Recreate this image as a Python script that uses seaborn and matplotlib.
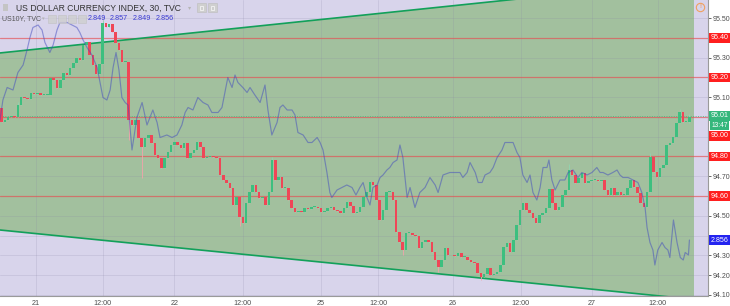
import numpy as np
import pandas as pd
import matplotlib
matplotlib.use("Agg")
import matplotlib.pyplot as plt
import matplotlib.transforms as mtrans
from matplotlib.patches import Rectangle
from matplotlib.lines import Line2D
import seaborn as sns

# ---------------- data ----------------
first_open = 95.046
closes_a = [
    94.975, 94.985, 95.000, 95.005, 95.000, 95.061, 95.101, 95.096, 95.091, 95.122,
    95.116, 95.122, 95.111, 95.111, 95.111, 95.197, 95.187, 95.147, 95.187, 95.223,
    95.213, 95.248, 95.273, 95.299, 95.289, 95.365, 95.380, 95.314, 95.263, 95.218,
    95.268, 95.476, 95.456, 95.471, 95.430, 95.375, 95.339, 95.278, 95.278, 94.985,
    94.960, 94.985, 94.894, 94.848, 94.894, 94.909, 94.868, 94.808, 94.793, 94.742,
    94.793, 94.823, 94.858, 94.873, 94.858, 94.843, 94.868, 94.793, 94.818, 94.833,
    94.873, 94.848, 94.793, 94.798, 94.803, 94.798, 94.793, 94.706, 94.681, 94.666,
    94.641, 94.554, 94.595, 94.494, 94.463, 94.565, 94.620,
]
closes_b = [
    94.656, 94.620, 94.590, 94.595, 94.554, 94.620, 94.782, 94.681, 94.696, 94.641,
    94.641, 94.580, 94.539, 94.519, 94.524, 94.519, 94.539, 94.534, 94.544, 94.544,
    94.539, 94.519, 94.524, 94.539, 94.544, 94.529, 94.524, 94.514, 94.539, 94.570,
    94.549, 94.514, 94.519, 94.544, 94.595, 94.620, 94.671, 94.656, 94.580, 94.479,
    94.529, 94.620, 94.620, 94.580, 94.418, 94.367, 94.327, 94.413, 94.413, 94.403,
    94.398, 94.337, 94.367, 94.377, 94.367, 94.317, 94.276, 94.241, 94.276, 94.337,
    94.301, 94.301, 94.296, 94.312, 94.291, 94.291, 94.276, 94.266, 94.261, 94.210,
    94.190, 94.205, 94.236, 94.200, 94.205, 94.215, 94.251, 94.342, 94.362, 94.317,
    94.377, 94.453, 94.529, 94.565, 94.529, 94.514, 94.489, 94.463, 94.504, 94.514,
    94.539, 94.636, 94.565, 94.529, 94.544, 94.605, 94.630, 94.732, 94.706, 94.666,
    94.691, 94.717, 94.666, 94.676, 94.681, 94.681, 94.676, 94.681, 94.630, 94.605,
    94.641, 94.605, 94.620, 94.605, 94.605, 94.641, 94.681, 94.646, 94.615, 94.565,
    94.544, 94.620, 94.798, 94.722, 94.696, 94.742, 94.757, 94.858, 94.868, 94.899,
    94.970, 95.025, 94.975, 94.975, 95.000,
]
wick_idx = [5, 31, 39, 43, 73, 83, 123, 134, 147, 174, 199, 208, 211]
wick_high = [95.075, 95.490, 95.278, 94.894, 94.595, 94.797, 94.367, 94.276, 94.210, 94.760, 94.820, 95.040, 95.015]
wick_low = [95.000, 95.268, 94.886, 94.691, 94.450, 94.620, 94.300, 94.215, 94.175, 94.630, 94.620, 94.970, 94.970]

us10y_bar = [
    -0.5, 0.4, 1.7, 3.5, 5.0, 6.6, 7.8, 8.7, 9.6, 11.2,
    12.4, 13.3, 14.8, 15.8, 17.0, 17.9, 20.1, 21.6, 23.1, 24.0,
    25.0, 26.2, 27.7, 29.3, 30.2, 31.1, 32.3, 33.3, 34.2, 35.1,
    36.0, 36.9, 37.9, 38.8, 40.0, 41.5, 43.1, 44.6, 45.5, 46.4,
    47.7, 48.6, 50.7, 52.3, 53.8, 55.3, 56.3, 57.2, 58.7, 60.2,
    61.8, 63.3, 64.5, 65.5, 66.4, 67.6, 68.5, 69.4, 70.7, 71.6,
    72.5, 74.0, 75.3, 76.2, 77.7, 79.3, 80.8, 81.7, 82.9, 84.5,
    85.4, 86.3, 87.6, 89.1, 90.0, 90.9, 92.5, 94.0, 95.2, 96.8,
    97.7, 98.6, 99.8, 100.7, 101.3, 102.9, 104.4, 105.9, 107.5, 108.7,
    109.9, 110.9, 112.1, 113.0, 113.9, 115.2, 116.1, 117.0, 118.2, 119.1,
    120.1, 121.3, 122.2, 123.1, 124.4, 125.3, 126.8, 128.3, 129.9, 131.4,
    133.0, 133.9, 135.4, 137.5, 139.1, 140.6, 141.5, 142.8, 143.7, 145.3,
    146.2, 147.4, 148.3, 149.8, 150.8, 152.0, 153.5, 154.4, 156.0, 156.9,
    158.1, 159.0, 159.9, 161.2, 162.1, 163.0, 164.2, 165.2, 166.1, 167.3,
    167.9, 168.8, 169.8, 171.3, 172.8, 173.8, 175.3, 176.8, 178.0, 179.6,
    181.1, 182.6, 183.6, 184.5, 186.0, 187.5, 188.8, 189.7, 190.6, 192.2,
    193.7, 195.2, 196.4, 197.4, 198.0, 198.9, 199.8, 200.4, 201.3, 202.6,
    203.5, 204.4, 205.0, 206.1, 207.2, 208.2, 209.1, 209.7, 210.7, 211.0,
]
us10y = [
    2.904, 2.912, 2.917, 2.916, 2.923, 2.926, 2.932, 2.937, 2.941, 2.942,
    2.940, 2.935, 2.931, 2.934, 2.940, 2.943, 2.943, 2.942, 2.941, 2.939,
    2.936, 2.933, 2.930, 2.925, 2.919, 2.913, 2.912, 2.916, 2.925, 2.931,
    2.924, 2.913, 2.911, 2.910, 2.892, 2.905, 2.911, 2.902, 2.905, 2.908,
    2.903, 2.897, 2.898, 2.897, 2.898, 2.902, 2.907, 2.909, 2.908, 2.913,
    2.911, 2.910, 2.907, 2.907, 2.907, 2.909, 2.915, 2.921, 2.917, 2.922,
    2.919, 2.917, 2.915, 2.917, 2.914, 2.911, 2.918, 2.908, 2.898, 2.903,
    2.909, 2.910, 2.908, 2.908, 2.906, 2.899, 2.898, 2.895, 2.895, 2.897,
    2.895, 2.892, 2.883, 2.875, 2.873, 2.876, 2.877, 2.878, 2.877, 2.874,
    2.877, 2.879, 2.873, 2.870, 2.877, 2.878, 2.881, 2.882, 2.884, 2.885,
    2.887, 2.888, 2.894, 2.889, 2.873, 2.877, 2.869, 2.875, 2.877, 2.881,
    2.878, 2.875, 2.882, 2.883, 2.883, 2.883, 2.881, 2.883, 2.887, 2.883,
    2.879, 2.879, 2.882, 2.883, 2.885, 2.889, 2.892, 2.895, 2.895, 2.895,
    2.891, 2.889, 2.882, 2.879, 2.882, 2.875, 2.872, 2.877, 2.885, 2.885,
    2.888, 2.880, 2.876, 2.880, 2.880, 2.883, 2.884, 2.881, 2.883, 2.882,
    2.883, 2.885, 2.883, 2.883, 2.882, 2.883, 2.884, 2.882, 2.881, 2.881,
    2.880, 2.879, 2.875, 2.869, 2.861, 2.855, 2.852, 2.846, 2.852, 2.855,
    2.853, 2.852, 2.849, 2.864, 2.855, 2.849, 2.848, 2.851, 2.850, 2.856,
]

channel_bars = [-0.5, 212.4]
channel_upper = [95.324, 95.690]
channel_lower = [94.428, 94.077]

level_lines = [95.40, 95.20, 95.00, 94.80, 94.60]
level_texts = ["95.40", "95.20", "95.00", "94.80", "94.60"]
level_label_y = [95.40, 95.20, 94.904, 94.80, 94.60]

price_ticks = [95.5, 95.4, 95.3, 95.2, 95.1, 95.0, 94.9, 94.8, 94.7, 94.6, 94.5, 94.4, 94.3, 94.2, 94.1]
price_tick_labels = ["95.50", "", "95.30", "", "95.10", "", "", "", "94.70", "", "94.50", "", "94.30", "94.20", "94.10"]

time_tick_bars = [10.5, 31, 53, 74, 98, 115.5, 138.5, 159.3, 181.1, 201.3]
time_tick_labels = ["21", "12:00", "22", "12:00", "25", "12:00", "26", "12:00", "27", "12:00"]

last_price = 95.005
last_price_text = "95.01"
countdown_text = "13:47"
us10y_last = 2.856
legend_values = ["2.849", "2.857", "2.849", "2.856"]

# ---------------- style ----------------
sns.set_style("white")
plt.rcParams["font.family"] = ["Liberation Sans", "DejaVu Sans"]

GREEN = "#3dbf7f"
RED = "#ef4657"
LAVENDER = "#d8d4eb"
FILL = "#a2c09e"

W, H = 730, 306
fig = plt.figure(figsize=(W / 100, H / 100), dpi=100, facecolor="white")
ax = fig.add_axes([0, 1 - 296 / H, 708 / W, 296 / H])
ax.set_facecolor(LAVENDER)
xlim = (-0.49, 216.7)
ax.set_xlim(*xlim)
ax.set_ylim(94.094, 95.592)

# US10Y on its own scale (created first so tick side of ax can be set afterwards)
ax2 = ax.twinx()
ax2.set_ylim(2.8336, 2.952)
ax2.set_xlim(*xlim)

# channel
ax.fill_between(channel_bars, channel_lower, channel_upper, color=FILL, lw=0, zorder=0.2)
ax.plot(channel_bars, channel_upper, color="#12a05a", lw=1.2, zorder=1.2)
ax.plot(channel_bars, channel_lower, color="#12a05a", lw=1.2, zorder=1.2)

# grid / ticks
ax.set_yticks(price_ticks)
ax.set_yticklabels(price_tick_labels)
ax.set_xticks(time_tick_bars)
ax.set_xticklabels(time_tick_labels)
ax.grid(True, color="#8a86a6", alpha=0.22, lw=0.6)
ax.set_axisbelow(True)
ax.yaxis.tick_right()
ax.yaxis.set_label_position("right")
ax.tick_params(axis="y", which="both", left=False, labelleft=False, right=True, labelright=True,
               labelsize=5.0, colors="#4d4d4d", length=2.5, pad=1.0, width=0.6)
ax.tick_params(axis="x", labelsize=5.2, colors="#4d4d4d", length=2.5, pad=0.5, width=0.6)
for s in ["top", "left"]:
    ax.spines[s].set_visible(False)
for s in ["right", "bottom"]:
    ax.spines[s].set_color("#9a9a9a")
    ax.spines[s].set_linewidth(0.8)

# horizontal levels
for lv in level_lines:
    ax.axhline(lv, color="#f04a4a", alpha=0.6, lw=0.9, zorder=1.0)
ax.axhline(last_price, color=GREEN, lw=0.7, ls=(0, (1, 1.5)), alpha=0.8, zorder=1.1)

# candles
closes = np.array(closes_a + closes_b)
opens = np.r_[first_open, closes[:-1]]
idx = np.arange(len(closes))
up = closes >= opens
body_lo = np.minimum(opens, closes)
body_h = np.maximum(np.abs(closes - opens), 0.003)
hi = np.maximum(opens, closes).copy()
lo = body_lo.copy()
for i, h, l in zip(wick_idx, wick_high, wick_low):
    hi[i] = h
    lo[i] = l
wick_cols = np.where(up, "#8fd6b0", "#f2a3ab")
ax.vlines(idx, lo, hi, colors=wick_cols, lw=0.6, zorder=2.9)
ax.bar(idx, body_h, bottom=body_lo, width=0.78, color=np.where(up, GREEN, RED), lw=0, zorder=3)

# US10Y line
sns.lineplot(x=us10y_bar, y=us10y, ax=ax2, color="#4048c0", alpha=0.5, lw=0.85,
             estimator=None, sort=False)
ax2.axis("off")

# right-side labels
trans = mtrans.blended_transform_factory(ax.transAxes, ax.transData)
trans2 = mtrans.blended_transform_factory(ax2.transAxes, ax2.transData)
xlab = 719.5 / 708
for txt, y in zip(level_texts, level_label_y):
    ax.text(xlab, y, txt, transform=trans, ha="center", va="center", fontsize=5.1,
            color="white", clip_on=False, zorder=10,
            bbox=dict(boxstyle="square,pad=0.2", fc="#ff1f1f", ec="none"))
ax.text(xlab, last_price, last_price_text, transform=trans, ha="center", va="center",
        fontsize=5.1, color="white", clip_on=False, zorder=10,
        bbox=dict(boxstyle="square,pad=0.2", fc="#35b77c", ec="none"))
ax.text(xlab, 94.958, countdown_text, transform=trans, ha="center", va="center",
        fontsize=4.8, color="white", clip_on=False, zorder=10,
        bbox=dict(boxstyle="square,pad=0.15", fc="#35b77c", ec="none"))
ax2.text(xlab, us10y_last, f"{us10y_last:.3f}", transform=trans2, ha="center", va="center",
         fontsize=5.1, color="white", clip_on=False, zorder=10,
         bbox=dict(boxstyle="square,pad=0.2", fc="#2424f0", ec="none"))
ax.text(711.5 / 708, 95.60, "95.60", transform=trans, ha="left", va="center", fontsize=5.0,
        color="#4d4d4d", clip_on=False)

# header
fx = lambda px: px / W
fy = lambda py: 1 - py / H
fig.add_artist(Rectangle((fx(3), fy(11)), 5 / W, 7 / H, transform=fig.transFigure,
                         fc="#c4c4c4", ec="none"))
fig.text(fx(16), fy(8), "US DOLLAR CURRENCY INDEX, 30, TVC", fontsize=6.2, color="#333333",
         ha="left", va="center")
fig.text(fx(190), fy(8), "\u25BE", fontsize=4.5, color="#b5b5b5", ha="center", va="center",
         family=["DejaVu Sans"])
for x0 in (197, 208):
    fig.add_artist(Rectangle((fx(x0), fy(12)), 9 / W, 9 / H, transform=fig.transFigure,
                             fc="#cfcfcf", ec="#bdbdbd", lw=0.4))
    fig.add_artist(Rectangle((fx(x0 + 2.5), fy(9.5)), 4 / W, 4 / H, transform=fig.transFigure,
                             fc="none", ec="#f4f4f4", lw=0.6))
fig.text(fx(2), fy(19), "US10Y, TVC", fontsize=5.0, color="#555555", ha="left", va="center")
fig.text(fx(43.5), fy(19), "\u25BE", fontsize=3.8, color="#b5b5b5", ha="center", va="center",
         family=["DejaVu Sans"])
for x0 in (48, 58, 68, 78):
    fig.add_artist(Rectangle((fx(x0), fy(23)), 8 / W, 8 / H, transform=fig.transFigure,
                             fc="#cfcfcf", ec="#bdbdbd", lw=0.4, alpha=0.8))
for xv, txt in zip((88, 110, 133, 156), legend_values):
    fig.text(fx(xv), fy(19), txt, fontsize=5.2, color="#3a3ad2", ha="left", va="center")

fig.add_artist(Line2D([fx(700)], [fy(7)], marker="o", ms=6, mfc="none", mec="#f0a060",
                      mew=0.8, transform=fig.transFigure))
fig.text(fx(700), fy(7), "!", fontsize=4.5, color="#f0a060", ha="center", va="center",
         fontweight="bold")

fig.savefig("out.png", dpi=100, facecolor="white")
